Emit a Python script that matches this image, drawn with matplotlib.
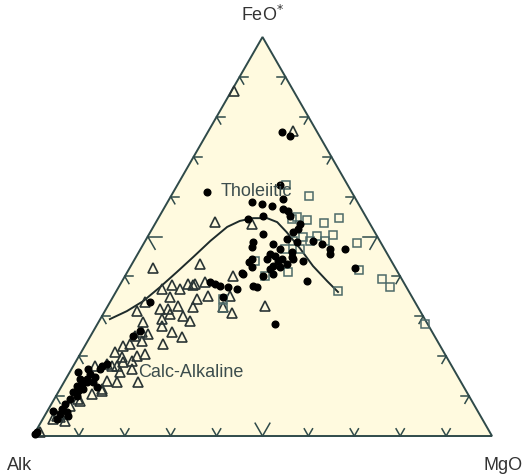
import numpy as np
import matplotlib
matplotlib.use("Agg")
import matplotlib.pyplot as plt

plt.rcParams['font.family'] = ['Liberation Sans', 'DejaVu Sans']

# ---- data (percent FeO*, percent MgO; Alk = 100 - FeO - MgO) ----
dot_feo = [76.2, 75.2, 61.2, 62.9, 59.4, 58.6, 58.1, 57.6, 56.4, 55.1, 54.4, 53.1, 51.9, 51.1, 50.6,
           48.9, 48.1, 46.9, 45.6, 46.9, 48.6, 47.4, 48.1, 46.9, 45.6, 45.1, 44.4, 44.4, 44.9, 43.1,
           43.9, 42.6, 44.4, 42.4, 41.9, 40.6, 40.1, 40.6, 37.6, 37.3, 36.8, 37.3, 37.6, 38.1, 38.6,
           38.8, 28.1, 42.1, 56.9, 55.1, 49.4, 48.6, 44.4, 40.9, 43.6, 43.9, 42.4, 46.1, 34.8, 33.6,
           26.3, 25.1, 18.0, 16.8, 17.5, 14.3, 12.5, 11.8, 11.0, 13.5, 16.0, 6.8, 6.0, 5.5, 6.3,
           0.5, 14.3, 13.0, 11.3, 13.5, 10.0, 4.3, 5.0, 16.8, 12.3, 1.0, 15.5, 14.8, 9.3, 8.0]
dot_mgo = [16.1, 18.4, 7.3, 22.3, 24.8, 18.4, 20.8, 23.3, 27.4, 22.5, 19.6, 31.6, 31.8, 31.0, 24.8,
           36.6, 38.9, 41.3, 41.9, 44.6, 23.6, 24.0, 28.2, 30.4, 28.8, 30.1, 28.8, 32.0, 34.0, 33.7,
           36.9, 31.0, 25.5, 26.5, 30.7, 32.0, 30.1, 25.5, 29.1, 30.1, 26.0, 23.8, 21.9, 20.7, 19.3,
           40.3, 38.7, 49.2, 26.1, 28.4, 30.6, 33.2, 34.4, 25.1, 25.3, 31.5, 32.6, 33.3, 24.0, 8.7,
           10.1, 9.3, 7.1, 6.2, 6.2, 3.1, 3.3, 5.0, 3.2, 5.0, 1.8, 2.9, 4.4, 3.1, 1.3,
           0.2, 4.7, 4.2, 4.2, 6.3, 4.6, 3.1, 5.1, 3.6, 7.8, 0.4, 4.6, 6.1, 3.5, 3.0]

tri_feo = [76.4, 86.5, 53.6, 53.1, 43.1, 42.1, 40.1, 32.6, 38.6, 37.8, 35.1, 34.3, 32.3, 32.3, 30.8,
           35.1, 28.8, 36.8, 37.8, 36.8, 38.1, 38.1, 33.6, 31.8, 31.8, 32.6, 34.8, 31.3, 28.6, 29.3,
           30.6, 27.6, 26.1, 24.8, 23.1, 26.1, 23.8, 22.6, 30.1, 25.6, 25.1, 20.6, 21.1, 19.8, 18.8,
           17.5, 18.0, 17.5, 14.8, 16.0, 16.8, 13.5, 13.5, 11.8, 9.3, 7.5, 5.0, 4.3, 5.5, 1.0,
           20.1, 18.5, 13.8, 11.3, 8.8, 4.8, 3.8, 10.5, 23.1, 17.5]
tri_mgo = [18.4, 0.6, 12.9, 21.1, 14.8, 5.1, 23.6, 34.2, 18.2, 16.0, 20.6, 18.5, 18.7, 25.2, 28.0,
           25.4, 19.8, 9.7, 11.4, 13.6, 14.8, 16.3, 7.6, 11.8, 13.5, 15.3, 12.4, 7.0, 9.7, 13.4,
           14.5, 14.3, 17.3, 20.1, 16.8, 10.7, 11.8, 8.3, 17.7, 12.3, 9.7, 14.1, 7.4, 9.5, 12.2,
           9.5, 7.1, 4.7, 5.0, 11.0, 13.2, 11.5, 16.1, 9.1, 5.2, 4.3, 2.7, 2.3, 3.7, 1.0,
           12.7, 10.3, 9.2, 9.4, 5.8, 3.5, 5.1, 7.6, 9.6, 8.4]

sq_feo = [62.9, 60.2, 54.9, 54.1, 53.4, 54.6, 54.4, 49.9, 50.1, 48.9, 48.9, 48.9, 48.4, 46.9, 46.9,
          43.9, 40.1, 41.1, 36.3, 41.6, 39.3, 37.3, 28.1, 34.3, 32.1, 50.4]
sq_mgo = [23.6, 30.0, 30.0, 32.6, 36.7, 39.4, 29.2, 33.9, 36.8, 39.2, 35.9, 32.2, 46.4, 31.5, 34.8,
          26.5, 30.5, 35.0, 48.2, 50.2, 56.3, 59.1, 71.4, 24.2, 25.4, 40.2]

curve_feo = [29.3, 31.3, 33.8, 37.3, 41.1, 44.9, 48.9, 52.4, 53.9, 54.6, 54.6, 53.6, 51.1, 46.9,
             42.6, 38.8, 36.1]
curve_mgo = [2.1, 4.8, 7.1, 9.0, 10.8, 12.5, 14.2, 16.1, 18.1, 20.6, 23.7, 26.4, 29.7, 34.8,
             39.7, 44.7, 48.4]

tick_values = [10, 20, 30, 40, 50, 60, 70, 80, 90]
apex_labels = ["Alk", "MgO", "FeO*"]

S3 = np.sqrt(3) / 2


def to_xy(feo, mgo):
    feo = np.asarray(feo, float)
    mgo = np.asarray(mgo, float)
    return mgo + feo / 2.0, feo * S3


fig = plt.figure(figsize=(5.23, 4.77), dpi=100)
ax = fig.add_axes([0, 0, 1, 1])
ax.set_xlim(-7.19, 106.75)
ax.set_ylim(-8.68, 94.85)
ax.axis('off')

edge_col = '#2f4a4a'
A = np.array([0.0, 0.0])
M = np.array([100.0, 0.0])
F = np.array([50.0, 100 * S3])

tri = plt.Polygon([A, M, F], closed=True, facecolor='#fffadf', edgecolor=edge_col, lw=1.4, zorder=1)
ax.add_patch(tri)

# chevron ticks
d_up_left = np.array([-0.5, S3])
d_up_right = np.array([0.5, S3])
d_right = np.array([1.0, 0.0])
d_left = np.array([-1.0, 0.0])
d_down_right = np.array([0.5, -S3])
d_down_left = np.array([-0.5, -S3])
for t in tick_values:
    L = 3.2 if t == 50 else 1.8
    f = t / 100.0
    p = A + (M - A) * f
    for d in (d_up_left, d_up_right):
        ax.plot([p[0], p[0] + L * d[0]], [p[1], p[1] + L * d[1]], color=edge_col, lw=1.1, zorder=2)
    p = A + (F - A) * f
    for d in (d_right, d_down_right):
        ax.plot([p[0], p[0] + L * d[0]], [p[1], p[1] + L * d[1]], color=edge_col, lw=1.1, zorder=2)
    p = M + (F - M) * f
    for d in (d_left, d_down_left):
        ax.plot([p[0], p[0] + L * d[0]], [p[1], p[1] + L * d[1]], color=edge_col, lw=1.1, zorder=2)

# boundary curve
cx, cy = to_xy(curve_feo, curve_mgo)
ax.plot(cx, cy, color='#1e2b2b', lw=1.4, zorder=3, solid_joinstyle='round')

tx, ty = to_xy(tri_feo, tri_mgo)
ax.plot(tx, ty, linestyle='none', marker='^', ms=6.8, mfc='none', mec='#2a3535', mew=1.2, zorder=4)
qx, qy = to_xy(sq_feo, sq_mgo)
ax.plot(qx, qy, linestyle='none', marker='s', ms=5.8, mfc='none', mec='#4d6a68', mew=1.1, zorder=5)
dx, dy = to_xy(dot_feo, dot_mgo)
ax.plot(dx, dy, linestyle='none', marker='o', ms=4.8, mfc='black', mec='black', zorder=6)

txt_col = '#3c4d4d'
ax.text(40.8, 53.2, "Tholeiitic", fontsize=13, color=txt_col, ha='left', va='center', zorder=7)
ax.text(23.0, 14.0, "Calc-Alkaline", fontsize=13, color=txt_col, ha='left', va='center', zorder=7)

lab_col = '#333333'
ax.text(50.0, 91.5, "FeO$^{*}$", fontsize=13, color=lab_col, ha='center', va='center')
ax.text(-2.9, -6.1, apex_labels[0], fontsize=13, color=lab_col, ha='center', va='center')
ax.text(102.5, -6.1, apex_labels[1], fontsize=13, color=lab_col, ha='center', va='center')

fig.savefig("out.png", dpi=100, facecolor='white')
